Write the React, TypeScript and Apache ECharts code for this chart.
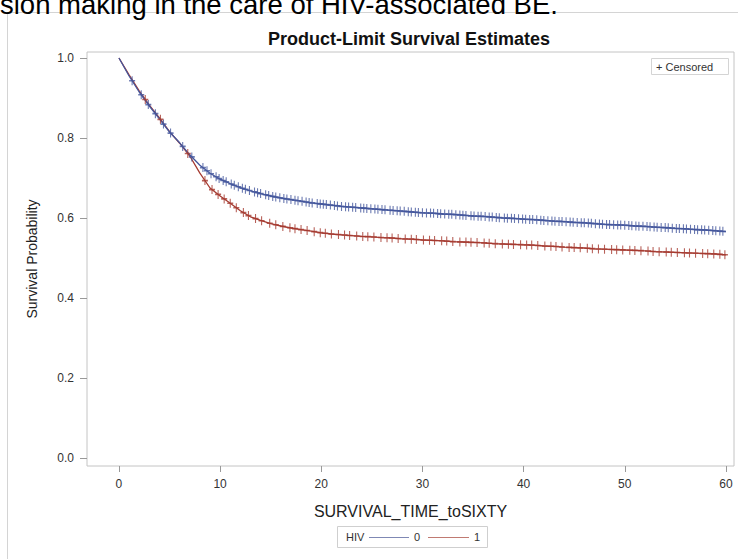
import React, { useEffect, useRef } from "react";
import * as echarts from "echarts";

// Time grid (months) and Kaplan-Meier survival estimates
const timePoints = [
  0, 1, 2, 3, 4, 5, 6, 7, 8, 9, 10, 11, 12, 13, 14, 15, 16, 17, 18, 19, 20,
  21, 22, 23, 24, 25, 26, 27, 28, 29, 30, 31, 32, 33, 34, 35, 36, 37, 38, 39, 40,
  41, 42, 43, 44, 45, 46, 47, 48, 49, 50, 51, 52, 53, 54, 55, 56, 57, 58, 59, 60,
];

// HIV = 0
const survivalHiv0 = [
  1.0, 0.955, 0.915, 0.88, 0.848, 0.815, 0.788, 0.758, 0.732, 0.712, 0.697,
  0.686, 0.676, 0.668, 0.661, 0.655, 0.65, 0.646, 0.642, 0.638, 0.635,
  0.632, 0.629, 0.627, 0.625, 0.623, 0.621, 0.619, 0.617, 0.615, 0.613,
  0.612, 0.61, 0.609, 0.607, 0.605, 0.604, 0.602, 0.6, 0.599, 0.597,
  0.596, 0.594, 0.592, 0.591, 0.589, 0.588, 0.586, 0.584, 0.583, 0.582,
  0.58, 0.579, 0.577, 0.576, 0.574, 0.573, 0.571, 0.57, 0.568, 0.566,
];

// HIV = 1
const survivalHiv1 = [
  1.0, 0.958, 0.918, 0.882, 0.85, 0.816, 0.787, 0.755, 0.712, 0.675, 0.655,
  0.637, 0.618, 0.603, 0.594, 0.586, 0.58, 0.575, 0.571, 0.567, 0.563,
  0.56, 0.558, 0.556, 0.554, 0.553, 0.551, 0.55, 0.548, 0.547, 0.545,
  0.544, 0.543, 0.541, 0.54, 0.539, 0.538, 0.536, 0.535, 0.534, 0.533,
  0.532, 0.53, 0.529, 0.527, 0.526, 0.525, 0.523, 0.522, 0.521, 0.52,
  0.519, 0.518, 0.516, 0.515, 0.514, 0.513, 0.512, 0.511, 0.51, 0.508,
];

// Censoring times
const censorHiv0 = [
  1.3, 2.2, 2.9, 3.6, 4.4, 5.1, 6.3, 7.2, 8.3, 8.7, 9.1, 9.6, 9.9, 10.3, 10.6,
  11.1, 11.4, 11.8, 12.2, 12.5, 12.9, 13.4, 13.7, 14.0, 14.5, 14.8, 15.2, 15.5,
  15.9, 16.3, 16.6, 17.0, 17.4, 17.7, 18.1, 18.5, 18.8, 19.1, 19.6, 19.9, 20.2,
  20.5, 20.9, 21.3, 21.6, 22.0, 22.4, 22.7, 23.1, 23.4, 23.9, 24.2, 24.5, 24.9,
  25.3, 25.6, 26.0, 26.3, 26.8, 27.1, 27.5, 27.8, 28.2, 28.6, 28.9, 29.3, 29.6,
  30.0, 30.4, 30.8, 31.1, 31.5, 31.8, 32.2, 32.6, 32.9, 33.3, 33.7, 34.0, 34.3,
  34.8, 35.1, 35.5, 35.8, 36.2, 36.6, 36.9, 37.3, 37.6, 38.1, 38.4, 38.8, 39.1,
  39.5, 39.9, 40.2, 40.6, 40.9, 41.3, 41.7, 42.0, 42.4, 42.8, 43.1, 43.5, 43.8,
  44.2, 44.6, 44.9, 45.3, 45.7, 46.0, 46.4, 46.7, 47.1, 47.5, 47.8, 48.2, 48.5,
  48.9, 49.3, 49.6, 50.0, 50.4, 50.7, 51.1, 51.4, 51.8, 52.2, 52.5, 52.9, 53.2,
  53.6, 54.0, 54.3, 54.7, 55.1, 55.4, 55.8, 56.1, 56.5, 56.9, 57.2, 57.6, 57.9,
  58.3, 58.7, 59.0, 59.4, 59.7,
];

const censorHiv1 = [
  2.6, 4.1, 6.8, 8.5, 9.2, 9.8, 10.4, 11.0, 11.6, 12.3, 12.8, 13.5, 14.1, 14.9,
  15.5, 16.2, 16.9, 17.4, 18.0, 18.6, 19.3, 19.9, 20.4, 21.0, 21.7, 22.3, 22.8,
  23.5, 24.1, 24.6, 25.2, 25.9, 26.5, 27.0, 27.6, 28.3, 28.9, 29.4, 30.1, 30.7,
  31.2, 31.9, 32.4, 33.0, 33.7, 34.3, 34.8, 35.4, 36.1, 36.6, 37.2, 37.9, 38.5,
  39.0, 39.7, 40.3, 40.8, 41.4, 42.1, 42.7, 43.2, 43.8, 44.5, 45.0, 45.6, 46.3,
  46.8, 47.4, 48.0, 48.7, 49.2, 49.8, 50.5, 51.0, 51.6, 52.3, 52.8, 53.4, 54.1,
  54.6, 55.2, 55.9, 56.4, 57.0, 57.7, 58.2, 58.8, 59.4, 59.9,
];

const seriesNames = ["0", "1"];
const legendTitle = "HIV";
const xTickValues = [0, 10, 20, 30, 40, 50, 60];
const yTickValues = [0, 0.2, 0.4, 0.6, 0.8, 1.0];

const BLUE = "#44569c";
const RED = "#a53a30";
const FONT = "Liberation Sans, Arial, Helvetica, sans-serif";
const PLUS =
  "path://M4.1,0h1.8v4.1h4.1v1.8h-4.1v4.1h-1.8v-4.1h-4.1v-1.8h4.1z";

// y of a censor mark: value of the drawn curve at that time
function valueAt(values: number[], t: number) {
  for (let i = 0; i < timePoints.length - 1; i++) {
    const a = timePoints[i];
    const b = timePoints[i + 1];
    if (t >= a && t <= b) {
      const f = (t - a) / (b - a);
      return values[i] + (values[i + 1] - values[i]) * f;
    }
  }
  return values[values.length - 1];
}

export default function App() {
  const ref = useRef<HTMLDivElement>(null);

  useEffect(() => {
    if (!ref.current) return;
    const chart = echarts.init(ref.current, null, { renderer: "svg" });

    const curve = (vals: number[]) => timePoints.map((t, i) => [t, vals[i]]);
    const marks = (times: number[], vals: number[]) =>
      times.map((t) => [t, valueAt(vals, t)]);

    const legendText = (x: number, text: string) => ({
      type: "text",
      x,
      y: 537,
      style: {
        text,
        fontFamily: FONT,
        fontSize: 11,
        fill: "#333",
        textVerticalAlign: "middle",
      },
    });

    chart.setOption({
      animation: false,
      backgroundColor: "#ffffff",
      textStyle: { fontFamily: FONT },
      title: {
        text: "Product-Limit Survival Estimates",
        left: 404,
        top: 25,
        textAlign: "center",
        textStyle: { fontFamily: FONT, fontSize: 18, fontWeight: "bold", color: "#111" },
      },
      grid: {
        left: 87,
        right: 4,
        top: 52,
        bottom: 93,
        show: true,
        borderColor: "#c4c4c4",
        borderWidth: 1,
        backgroundColor: "transparent",
      },
      xAxis: {
        type: "value",
        min: -3.16,
        max: 60.8,
        name: "SURVIVAL_TIME_toSIXTY",
        nameLocation: "middle",
        nameGap: 37,
        nameTextStyle: { fontFamily: FONT, fontSize: 16, color: "#222" },
        axisLine: { show: false, onZero: false },
        splitLine: { show: false },
        axisTick: {
          show: true,
          customValues: xTickValues,
          length: 6,
          lineStyle: { color: "#999" },
        },
        axisLabel: {
          customValues: xTickValues,
          fontFamily: FONT,
          fontSize: 12,
          color: "#333",
          margin: 12,
        },
      },
      yAxis: {
        type: "value",
        min: -0.02,
        max: 1.015,
        name: "Survival Probability",
        nameLocation: "middle",
        nameGap: 48,
        nameTextStyle: { fontFamily: FONT, fontSize: 14, color: "#222" },
        axisLine: { show: false, onZero: false },
        splitLine: { show: false },
        axisTick: {
          show: true,
          customValues: yTickValues,
          length: 7,
          lineStyle: { color: "#999" },
        },
        axisLabel: {
          customValues: yTickValues,
          formatter: (v: number) => v.toFixed(1),
          fontFamily: FONT,
          fontSize: 12,
          color: "#333",
          margin: 13,
        },
      },
      graphic: [
        {
          type: "rect",
          shape: { x: 7.5, y: 12.5, width: 740, height: 560 },
          style: { fill: "none", stroke: "#d4d4d4", lineWidth: 1 },
          z: -10,
        },
        {
          type: "text",
          x: 0,
          y: 18,
          z: 10,
          style: {
            text: "sion making in the care of HIV-associated BE.",
            fontFamily: FONT,
            fontSize: 27.5,
            fill: "#000",
            textVerticalAlign: "bottom",
          },
        },
        // bottom legend
        {
          type: "rect",
          shape: { x: 337.5, y: 526.5, width: 150, height: 21 },
          style: { fill: "none", stroke: "#cfcfcf", lineWidth: 1 },
        },
        legendText(346, legendTitle),
        {
          type: "line",
          shape: { x1: 369, y1: 537.5, x2: 409, y2: 537.5 },
          style: { stroke: "#7f88b4", lineWidth: 1 },
        },
        legendText(414, seriesNames[0]),
        {
          type: "line",
          shape: { x1: 428, y1: 537.5, x2: 469, y2: 537.5 },
          style: { stroke: "#c07a72", lineWidth: 1 },
        },
        legendText(474, seriesNames[1]),
        // censored inset legend
        {
          type: "rect",
          shape: { x: 651.5, y: 58.5, width: 77, height: 16 },
          style: { fill: "#fff", stroke: "#d4d4d4", lineWidth: 1 },
        },
        {
          type: "text",
          x: 656,
          y: 66.5,
          style: {
            text: "+ Censored",
            fontFamily: FONT,
            fontSize: 11,
            fill: "#333",
            textVerticalAlign: "middle",
          },
        },
      ],
      series: [
        {
          name: seriesNames[0],
          type: "line",
          showSymbol: false,
          data: curve(survivalHiv0),
          color: BLUE,
          lineStyle: { width: 1.3, color: BLUE },
          z: 3,
        },
        {
          name: seriesNames[1],
          type: "line",
          showSymbol: false,
          data: curve(survivalHiv1),
          color: RED,
          lineStyle: { width: 1.3, color: RED },
          z: 2,
        },
        {
          name: "censor0",
          type: "scatter",
          symbol: PLUS,
          symbolSize: [6, 9],
          data: marks(censorHiv0, survivalHiv0),
          itemStyle: { color: BLUE },
          z: 4,
        },
        {
          name: "censor1",
          type: "scatter",
          symbol: PLUS,
          symbolSize: [6, 9],
          data: marks(censorHiv1, survivalHiv1),
          itemStyle: { color: RED },
          z: 4,
        },
      ],
    });

    return () => chart.dispose();
  }, []);

  return (
    <div
      ref={ref}
      style={{ position: "absolute", left: 0, top: 0, width: 738, height: 559 }}
    />
  );
}
